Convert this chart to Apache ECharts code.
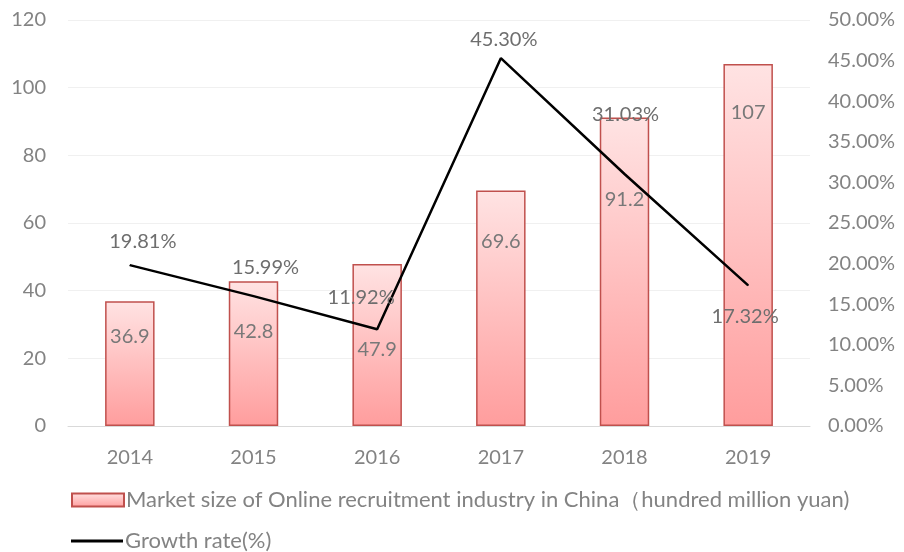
<!DOCTYPE html>
<html>
<head>
<meta charset="utf-8">
<script src="https://cdn.jsdelivr.net/npm/echarts@6/dist/echarts.min.js"></script>
<style>
  html, body { margin: 0; padding: 0; background: #fff; }
  #chart { width: 904px; height: 552px; }
</style>
</head>
<body>
<div id="chart"></div>
<script>
var years = ['2014', '2015', '2016', '2017', '2018', '2019']
var marketSize = [36.9, 42.8, 47.9, 69.6, 91.2, 107]
var growthRate = [19.81, 15.99, 11.92, 45.30, 31.03, 17.32]

var barName = 'Market size of Online recruitment industry in China（hundred million yuan)'
var lineName = 'Growth rate(%)'

// label tweaks, mimicking the hand placed labels of the original
var barLabelDy = [25, 40, 76, 41, 72, 39]
var lineLabelOff = [[13, -3], [12, -8], [-16, -11], [3, 2], [1, -39], [-3, 52]]

var font = 'Lato, "Open Sans", sans-serif'
var grey = '#838383'

var chart = echarts.init(document.getElementById('chart'))
chart.setOption({
  animation: false,
  textStyle: { fontFamily: font },
  grid: { left: 68, right: 94, top: 20, bottom: 126 },
  legend: [{
    left: 66,
    top: 484,
    itemWidth: 52,
    itemHeight: 13,
    textStyle: { fontFamily: font, fontSize: 22, color: grey, padding: [0, 0, 0, -3] },
    data: [{ name: barName, icon: 'rect' }]
  }, {
    left: 66,
    top: 525,
    itemWidth: 52,
    itemHeight: 3,
    textStyle: { fontFamily: font, fontSize: 22, color: grey, padding: [0, 0, 0, -3] },
    data: [{ name: lineName, icon: 'rect' }]
  }],
  xAxis: {
    type: 'category',
    data: years,
    axisTick: { show: false },
    axisLine: { lineStyle: { color: '#d9d9d9', width: 1 } },
    axisLabel: { fontFamily: font, fontSize: 20, color: grey, margin: 22 }
  },
  yAxis: [{
    type: 'value',
    min: 0,
    max: 120,
    interval: 20,
    axisLine: { show: false },
    axisTick: { show: false },
    splitLine: { lineStyle: { color: '#f0f0f0' } },
    axisLabel: { fontFamily: font, fontSize: 20, color: grey, margin: 22 }
  }, {
    type: 'value',
    min: 0,
    max: 50,
    interval: 5,
    axisLine: { show: false },
    axisTick: { show: false },
    splitLine: { show: false },
    axisLabel: {
      fontFamily: font, fontSize: 20, color: grey, margin: 18,
      formatter: function (v) { return v.toFixed(2) + '%' }
    }
  }],
  series: [{
    name: barName,
    type: 'bar',
    barWidth: '40%',
    data: marketSize.map(function (v, i) {
      return { value: v, label: { offset: [0, barLabelDy[i]] } }
    }),
    itemStyle: {
      borderColor: '#c0504d',
      borderWidth: 1.5,
      color: new echarts.graphic.LinearGradient(0, 0, 0, 1, [
        { offset: 0, color: '#ffe3e3' },
        { offset: 1, color: '#ff9d9d' }
      ])
    },
    label: {
      show: true,
      position: 'insideTop',
      distance: 0,
      fontFamily: font,
      fontSize: 20,
      color: '#787878'
    }
  }, {
    name: lineName,
    type: 'line',
    yAxisIndex: 1,
    symbol: 'circle',
    symbolSize: 1,
    showSymbol: true,
    z: 5,
    data: growthRate.map(function (v, i) {
      return { value: v, label: { offset: lineLabelOff[i] } }
    }),
    lineStyle: { color: '#000', width: 2.5 },
    itemStyle: { color: '#000' },
    label: {
      show: true,
      position: 'top',
      distance: 10,
      fontFamily: font,
      fontSize: 20,
      color: '#6e6e6e',
      formatter: function (p) { return p.value.toFixed(2) + '%' }
    }
  }]
})
</script>
</body>
</html>
